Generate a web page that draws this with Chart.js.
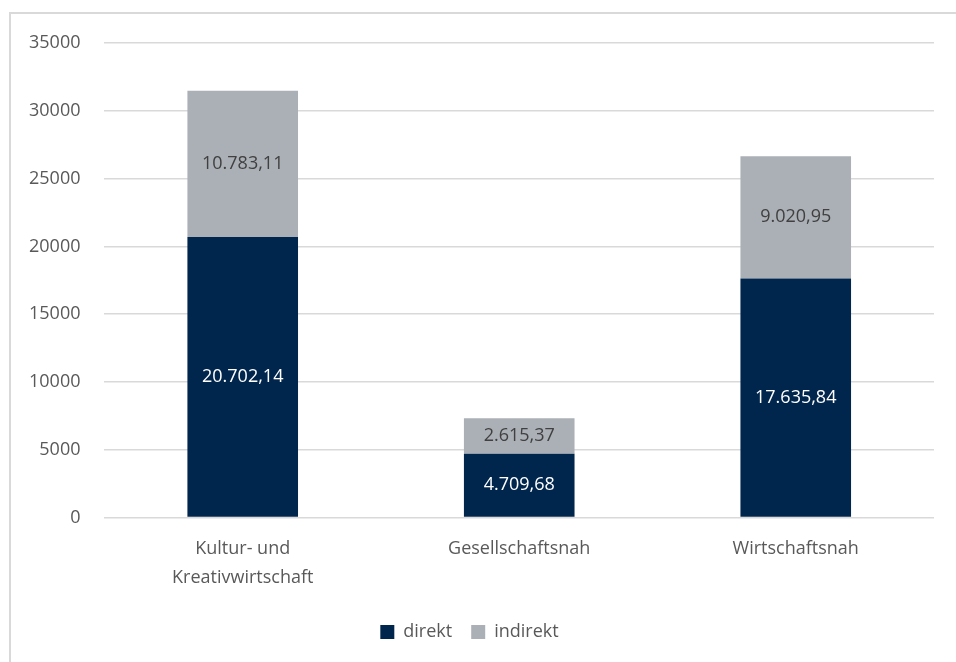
<!DOCTYPE html>
<html>
<head>
<meta charset="utf-8">
<script src="https://cdn.jsdelivr.net/npm/chart.js@4"></script>
<style>
  body { margin: 0; background: #fff; }
  #frame {
    position: absolute; left: 9px; top: 12px;
    width: 1000px; height: 700px;
    border: 2px solid #d9d9d9;
  }
  #wrap { position: absolute; left: 0; top: 0; width: 956px; height: 662px; }
</style>
</head>
<body>
<div id="frame"></div>
<div id="wrap"><canvas id="myChart"></canvas></div>
<script>
var categories = [["Kultur- und", "Kreativwirtschaft"], "Gesellschaftsnah", "Wirtschaftsnah"];
var direkt = [20702.14, 4709.68, 17635.84];
var indirekt = [10783.11, 2615.37, 9020.95];
var yTicks = [0, 5000, 10000, 15000, 20000, 25000, 30000, 35000];

var textColor = "#595959";
var fontFamily = "'Open Sans', sans-serif";

function formatDe(v) {
    var parts = v.toFixed(2).split(".");
    var intPart = parts[0].replace(/\B(?=(\d{3})+(?!\d))/g, ".");
    return intPart + "," + parts[1];
}

var barLabels = {
    id: "barLabels",
    afterDatasetsDraw: function (chart) {
        var ctx = chart.ctx;
        ctx.save();
        ctx.font = "18px " + fontFamily;
        ctx.textAlign = "center";
        ctx.textBaseline = "middle";
        chart.data.datasets.forEach(function (ds, i) {
            var meta = chart.getDatasetMeta(i);
            meta.data.forEach(function (bar, j) {
                var mid = (bar.y + bar.base) / 2;
                ctx.fillStyle = i === 0 ? "#ffffff" : "#404040";
                ctx.fillText(formatDe(ds.data[j]), bar.x, mid);
            });
        });
        ctx.restore();
    }
};

new Chart("myChart", {
    type: "bar",
    data: {
        labels: categories,
        datasets: [{
            label: "direkt",
            data: direkt,
            backgroundColor: "#00264d",
            barPercentage: 0.4,
            categoryPercentage: 1
        }, {
            label: "indirekt",
            data: indirekt,
            backgroundColor: "#abb0b6",
            barPercentage: 0.4,
            categoryPercentage: 1
        }]
    },
    options: {
        responsive: true,
        maintainAspectRatio: false,
        animation: false,
        layout: { padding: { top: 43, right: 22, left: 5, bottom: 11 } },
        plugins: {
            legend: {
                position: "bottom",
                labels: {
                    color: textColor,
                    font: { size: 18, family: fontFamily },
                    boxWidth: 14,
                    boxHeight: 14,
                    padding: 19
                }
            },
            tooltip: { enabled: false }
        },
        scales: {
            x: {
                stacked: true,
                grid: { display: false },
                border: { display: false },
                afterFit: function (axis) { axis.height += 3; },
                ticks: {
                    color: textColor,
                    font: { size: 18, family: fontFamily, lineHeight: 1.65 },
                    padding: 8,
                    maxRotation: 0
                }
            },
            y: {
                stacked: true,
                min: 0,
                max: 35000,
                afterBuildTicks: function (axis) {
                    axis.ticks = yTicks.map(function (v) { return { value: v }; });
                },
                grid: { color: "#d9d9d9", lineWidth: 1.5, drawTicks: false },
                border: { display: false },
                ticks: {
                    color: textColor,
                    font: { size: 18, family: fontFamily },
                    padding: 24,
                    callback: function (v) { return String(v); }
                }
            }
        }
    },
    plugins: [barLabels]
});
</script>
</body>
</html>
